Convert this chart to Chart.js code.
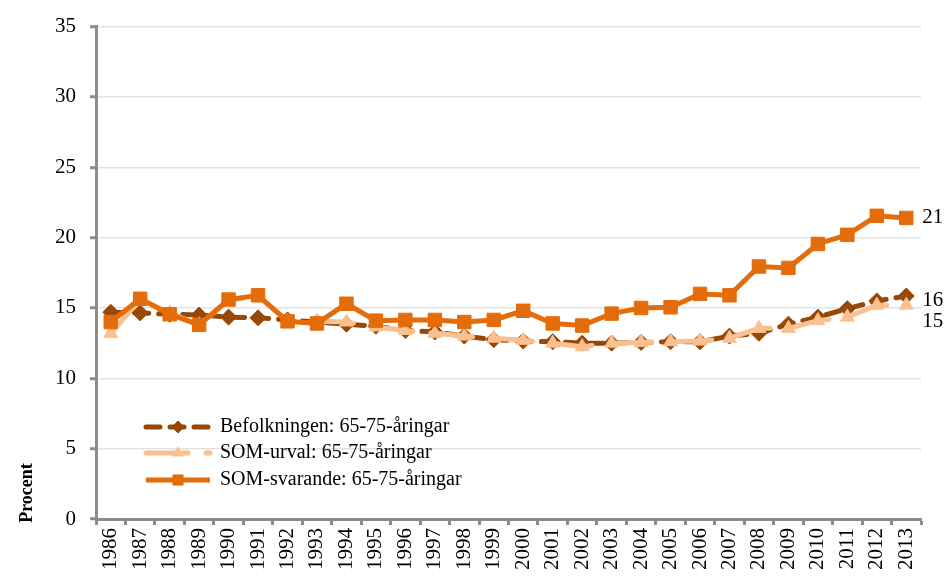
<!DOCTYPE html>
<html><head><meta charset="utf-8">
<script src="https://cdn.jsdelivr.net/npm/chart.js@4/dist/chart.umd.min.js"></script>
<style>html,body{margin:0;padding:0;background:#fff}#wrap{width:944px;height:579px}</style>
</head><body><div id="wrap"><canvas id="c" width="944" height="579"></canvas></div>
<script>
const years = ["1986","1987","1988","1989","1990","1991","1992","1993","1994","1995","1996","1997","1998","1999","2000","2001","2002","2003","2004","2005","2006","2007","2008","2009","2010","2011","2012","2013"];
const befolkningen = [14.7,14.65,14.55,14.5,14.35,14.3,14.15,14.0,13.85,13.7,13.4,13.3,13.0,12.75,12.65,12.6,12.5,12.5,12.55,12.6,12.6,13.0,13.2,13.85,14.35,14.95,15.5,15.85];
const somUrval = [13.2,15.6,14.65,13.8,15.55,15.85,14.05,14.05,14.0,13.65,13.4,13.2,13.0,12.85,12.7,12.5,12.25,12.5,12.55,12.6,12.65,12.85,13.55,13.55,14.1,14.35,15.2,15.2];
const somSvarande = [14.0,15.65,14.55,13.8,15.6,15.9,14.05,13.9,15.3,14.1,14.15,14.15,14.0,14.15,14.8,13.9,13.75,14.6,15.0,15.05,16.0,15.9,17.95,17.85,19.55,20.2,21.55,21.4];
const seriesNames = ["Befolkningen: 65-75-åringar","SOM-urval: 65-75-åringar","SOM-svarande: 65-75-åringar"];
const endLabels = ["16","15","21"];
const yTicks = [0,5,10,15,20,25,30,35];
const yTitle = "Procent";

const SERIF = "'Liberation Serif', 'DejaVu Serif', serif";

const endLabelPlugin = {
  id:'endLabels',
  afterDatasetsDraw(chart){
    const ctx = chart.ctx;
    ctx.save();
    ctx.font = "21px " + SERIF;
    ctx.fillStyle = "#000";
    ctx.textBaseline = "middle";
    ctx.textAlign = "left";
    const offs = [4,16,0];
    chart.data.datasets.forEach((ds,i)=>{
      const meta = chart.getDatasetMeta(i);
      const p = meta.data[meta.data.length-1];
      ctx.fillText(endLabels[i], p.x + 16, p.y + offs[i]);
    });
    ctx.restore();
  }
};

const legendPlugin = {
  id:'customLegend',
  afterDatasetsDraw(chart){
    const ctx = chart.ctx;
    const rows = [427,453,480];
    ctx.save();
    chart.data.datasets.forEach((ds,i)=>{
      const y = rows[i];
      ctx.save();
      ctx.strokeStyle = ds.borderColor;
      ctx.lineWidth = ds.borderWidth;
      ctx.lineCap = ds.borderCapStyle || 'butt';
      ctx.setLineDash(ds.borderDash || []);
      ctx.beginPath();
      ctx.moveTo(146,y); ctx.lineTo(210,y);
      ctx.stroke();
      ctx.restore();
      ctx.save();
      ctx.fillStyle = ds.pointBackgroundColor;
      ctx.strokeStyle = ds.pointBorderColor;
      ctx.lineWidth = 1;
      Chart.helpers.drawPoint(ctx,{pointStyle:ds.pointStyle,radius:ds.pointRadius*0.75,borderWidth:1,rotation:0},178,y);
      ctx.restore();
      ctx.font = "20px " + SERIF;
      ctx.fillStyle = "#000";
      ctx.textBaseline = "middle";
      ctx.textAlign = "left";
      ctx.fillText(seriesNames[i], 220, y);
    });
    ctx.restore();
  }
};

const titlePlugin = {
  id:'yTitle',
  afterDraw(chart){
    const ctx = chart.ctx;
    ctx.save();
    ctx.translate(27, 493);
    ctx.rotate(-Math.PI/2);
    ctx.font = "bold 18px " + SERIF;
    ctx.fillStyle = "#000";
    ctx.textAlign = "center";
    ctx.textBaseline = "middle";
    ctx.fillText(yTitle, 0, 0);
    ctx.restore();
  }
};

new Chart(document.getElementById('c'),{
  type:'line',
  data:{
    labels: years,
    datasets:[
      {label:seriesNames[0], data:befolkningen, borderColor:'#974706', backgroundColor:'#974706',
       pointBackgroundColor:'#974706', pointBorderColor:'#974706', borderWidth:5, borderDash:[14,10], borderCapStyle:'round',
       pointStyle:'rectRot', pointRadius:8, pointBorderWidth:1, tension:0, order:2, fill:false},
      {label:seriesNames[1], data:somUrval, borderColor:'#FAC090', backgroundColor:'#FAC090',
       pointBackgroundColor:'#FAC090', pointBorderColor:'#FAC090', borderWidth:5, borderDash:[42,18], borderCapStyle:'round',
       pointStyle:'triangle', pointRadius:8, pointBorderWidth:1, tension:0, order:1, fill:false},
      {label:seriesNames[2], data:somSvarande, borderColor:'#E46C0A', backgroundColor:'#E46C0A',
       pointBackgroundColor:'#E46C0A', pointBorderColor:'#E46C0A', borderWidth:5,
       pointStyle:'rect', pointRadius:9.5, pointBorderWidth:1, tension:0, order:0, fill:false}
    ]
  },
  options:{
    responsive:false,
    animation:false,
    devicePixelRatio:1,
    layout:{padding:{left:0,right:23,top:20,bottom:0}},
    plugins:{legend:{display:false},tooltip:{enabled:false}},
    scales:{
      x:{
        type:'category',
        offset:true,
        grid:{display:true, drawOnChartArea:false, offset:true, tickColor:'#8c8c8c', tickLength:6, tickWidth:3},
        border:{color:'#8c8c8c', width:3},
        ticks:{font:{family:SERIF,size:21}, color:'#000', minRotation:90, maxRotation:90, padding:3, autoSkip:false},
        afterFit(s){ s.height = 60; }
      },
      y:{
        min:0,max:35,
        afterBuildTicks(s){ s.ticks = yTicks.map(v=>({value:v})); },
        grid:{color:'#e3e3e3', lineWidth:1.5, tickColor:'#8c8c8c', tickLength:6, tickWidth:3},
        border:{color:'#8c8c8c', width:3},
        ticks:{font:{family:SERIF,size:21}, color:'#000', padding:14},
        afterFit(s){ s.width = 96; }
      }
    }
  },
  plugins:[endLabelPlugin, legendPlugin, titlePlugin]
});
</script></body></html>
